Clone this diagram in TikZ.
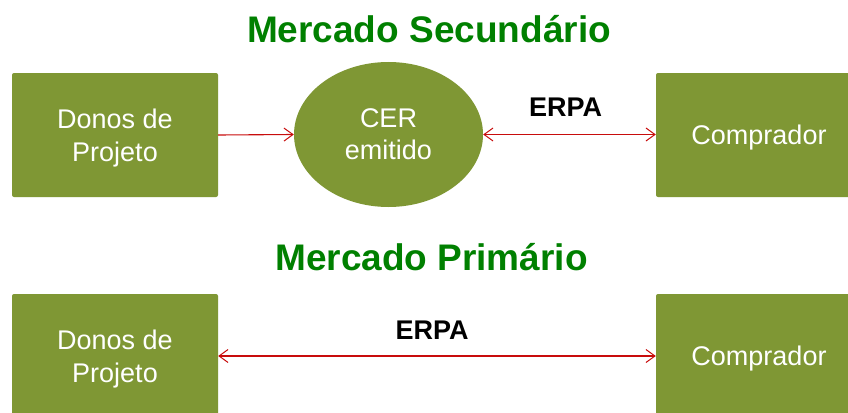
\documentclass[tikz,border=0pt]{standalone}
\usepackage{fontspec}
\setmainfont{Liberation Sans}
\usetikzlibrary{arrows.meta,shapes.geometric}
\definecolor{olivebox}{RGB}{127,151,52}
\definecolor{titlegreen}{RGB}{0,128,0}
\definecolor{arrowred}{RGB}{200,12,12}
\tikzset{
  boxnode/.style={fill=olivebox, draw=none, rounded corners=2pt, inner sep=0pt, text=white,
    align=center, text depth=0pt, font=\fontsize{27}{33}\selectfont},
  ellnode/.style={ellipse, fill=olivebox, draw=none, inner sep=0pt, text=white,
    align=center, text depth=0pt, font=\fontsize{27}{32}\selectfont,
    minimum width=189pt, minimum height=145pt},
  titletext/.style={font=\fontsize{37}{40}\selectfont\bfseries, text=titlegreen, anchor=base, inner sep=0pt},
  labeltext/.style={font=\fontsize{27}{30}\selectfont\bfseries, text=black, anchor=base, inner sep=0pt},
  conn/.style={draw=arrowred, line width=1.1pt},
  tipend/.style={-{Straight Barb[length=9pt,width=13pt,line width=1pt]}},
  tipboth/.style={{Straight Barb[length=9pt,width=13pt,line width=1pt]}-{Straight Barb[length=9pt,width=13pt,line width=1pt]}}
}
\begin{document}
\begin{tikzpicture}[x=1pt,y=-1pt]
\clip (0,0) rectangle (848,412);
\fill[white] (0,0) rectangle (848,412);
% titles
\node[titletext] (t1) at (429,43) {Mercado Secundário};
\node[titletext] (t2) at (431.5,270) {Mercado Primário};
% top row
\node[boxnode, minimum width=206pt, minimum height=124pt] (d1) at (115,135) {Donos de\\Projeto};
\node[ellnode] (cer) at (388.5,134.5) {CER\\emitido};
\node[boxnode, minimum width=206pt, minimum height=124pt] (c1) at (759,135) {Comprador};
% bottom row
\node[boxnode, minimum width=206pt, minimum height=124pt] (d2) at (115,356) {Donos de\\Projeto};
\node[boxnode, minimum width=206pt, minimum height=124pt] (c2) at (759,356) {Comprador};
% connectors
\draw[conn, tipend] (d1.east) -- (cer.west);
\draw[conn, tipboth] (cer.east) -- (c1.west |- cer.east);
\draw[conn, tipboth] (d2.east) -- (c2.west);
% labels
\node[labeltext] (erpa1) at (565.5,116) {ERPA};
\node[labeltext] (erpa2) at (432,339) {ERPA};
\end{tikzpicture}
\end{document}
